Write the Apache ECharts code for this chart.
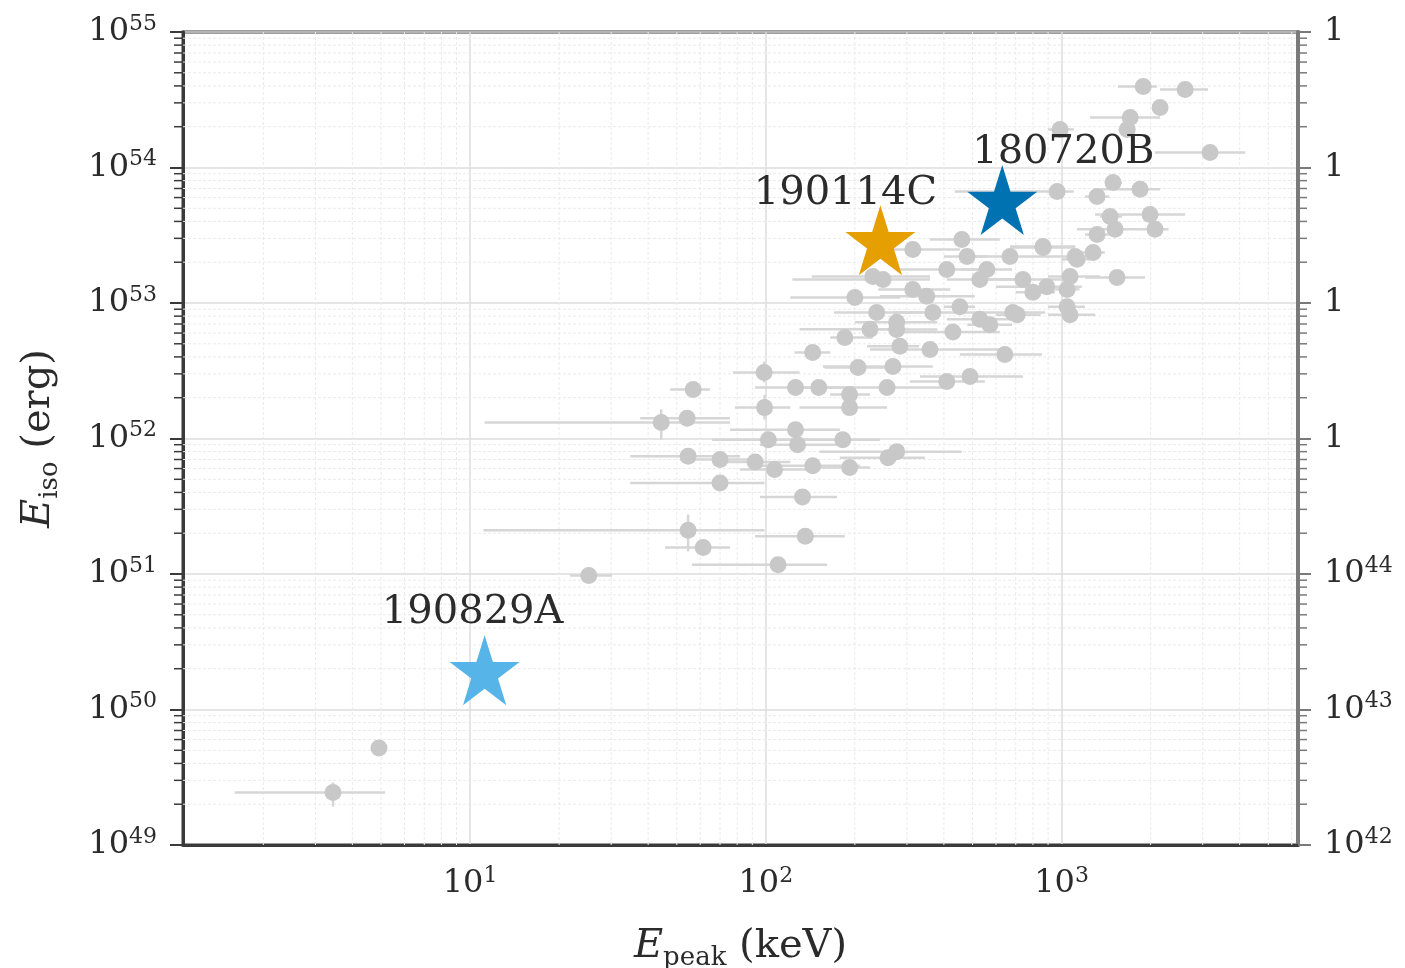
<!DOCTYPE html>
<html><head><meta charset="utf-8">
<script src="https://cdn.jsdelivr.net/npm/echarts@6.0.0/dist/echarts.min.js"></script>
<style>html,body{margin:0;padding:0;background:#fff}#c{width:1405px;height:968px}</style>
</head><body><div id="c"></div>
<script>
// ---- Data (Epeak in keV, Eiso in erg) ----
const epeak = [3.44, 4.92, 25.2, 56.8, 44.3, 54.2, 98.7, 126, 151, 144, 205, 192, 192, 99, 126, 128, 182, 102, 54.6, 70, 70, 92, 107, 144, 192, 259, 277, 133, 54.6, 61.4, 136, 110, 185, 277, 269, 257, 643, 490, 409, 359, 314, 460, 479, 669, 865, 1111, 230, 249, 200, 350, 409, 529, 559, 740, 891, 1068, 237, 277, 367, 453, 529, 684, 1044, 284, 429, 225, 1888, 2617, 2153, 1706, 1667, 988, 3176, 1493, 1842, 1318, 966, 1459, 1991, 2070, 1517, 1318, 866, 1278, 1128, 1540, 1044, 1068, 708, 800, 572, 314];
const epeakLo = [1.60, 4.92, 21.8, 47.5, 11.2, 37.6, 77.5, 92, 130, 125, 158, 165, 130, 78.7, 75.7, 95.5, 121, 65.8, 34.8, 51.3, 34.8, 70, 81.8, 95.5, 141, 178, 152, 95.5, 11.1, 45.6, 92, 56.3, 165, 225, 156, 130, 453, 332, 307, 225, 225, 359, 400, 453, 669, 914, 143, 123, 121, 243, 284, 409, 460, 559, 600, 900, 170, 200, 270, 400, 409, 540, 900, 220, 284, 130, 1550, 2153, 2153, 1248, 1600, 900, 2070, 1400, 1349, 1200, 435, 1350, 1298, 1800, 1128, 1200, 669, 1150, 1000, 1201, 950, 900, 600, 700, 480, 240];
const epeakHi = [5.16, 4.92, 30.2, 64.8, 75.7, 75.7, 130, 178, 185, 165, 284, 225, 257, 121, 178, 178, 243, 146, 81.8, 95.5, 99, 121, 152, 208, 225, 345, 460, 174, 99, 75.7, 185, 161, 230, 380, 367, 419, 858, 740, 550, 618, 453, 618, 560, 914, 1111, 1349, 359, 359, 284, 509, 540, 700, 680, 1000, 1170, 1350, 340, 380, 520, 510, 700, 880, 1200, 330, 618, 284, 2100, 3126, 2153, 2153, 1750, 1100, 4178, 1600, 2153, 1450, 1100, 1600, 2617, 2300, 1800, 1450, 1111, 1400, 1250, 1915, 1150, 1300, 850, 950, 680, 420];
const eiso = [2.44e49, 5.2e49, 9.75e50, 2.30e52, 1.31e52, 1.41e52, 3.07e52, 2.38e52, 2.38e52, 4.31e52, 3.34e52, 2.11e52, 1.69e52, 1.69e52, 1.16e52, 9.0e51, 9.8e51, 9.8e51, 7.4e51, 7.0e51, 4.7e51, 6.7e51, 5.9e51, 6.3e51, 6.1e51, 7.2e51, 8.0e51, 3.7e51, 2.1e51, 1.57e51, 1.9e51, 1.17e51, 5.56e52, 6.37e52, 3.40e52, 2.38e52, 4.17e52, 2.87e52, 2.63e52, 4.54e52, 2.48e53, 2.94e53, 2.20e53, 2.20e53, 2.61e53, 2.20e53, 1.57e53, 1.49e53, 1.10e53, 1.12e53, 1.77e53, 1.49e53, 1.77e53, 1.49e53, 1.32e53, 1.57e53, 8.5e52, 7.2e52, 8.5e52, 9.4e52, 7.6e52, 8.5e52, 9.4e52, 4.8e52, 6.1e52, 6.4e52, 3.96e54, 3.76e54, 2.77e54, 2.34e54, 1.91e54, 1.91e54, 1.29e54, 7.75e53, 6.9e53, 6.1e53, 6.65e53, 4.35e53, 4.5e53, 3.5e53, 3.5e53, 3.2e53, 2.57e53, 2.36e53, 2.1e53, 1.54e53, 1.26e53, 8.2e52, 8.2e52, 1.20e53, 6.9e52, 1.26e53];
// points with a visible vertical error bar
const yErrPoint = [0, 4, 6, 13, 28];
const yErrLo = [1.92e49, 0.98e52, 2.59e52, 1.38e52, 1.47e51];
const yErrHi = [2.89e49, 1.64e52, 3.70e52, 2.10e52, 2.75e51];

const starNames = ['190829A', '190114C', '180720B'];
const starEpeak = [11.2, 244, 630];
const starEiso = [1.95e50, 2.9e53, 5.75e53];

const xMin = 1.07, xMax = 6300;
const yMin = 1e49, yMax = 1e55;
const y2Min = 1e42, y2Max = 1e48;
const rightTickLabels = ['10^42', '10^43', '10^44', '1', '1', '1', '1'];

// ---- styles ----
const FONT = 'DejaVu Serif';
const TXT = '#2b2b2b';
const starColors = ['#56B4E9', '#E69F00', '#0072B2'];
const starOffsets = [[-12, -58], [-35, -47], [61, -47]];
const STAR = 'path://M50 0 L61.23 34.55 L97.55 34.55 L68.17 55.9 L79.39 90.45 L50 69.1 L20.61 90.45 L31.83 55.9 L2.45 34.55 L38.77 34.55 Z';

const points = epeak.map((x, i) => {
  const k = yErrPoint.indexOf(i);
  return [x, eiso[i], epeakLo[i], epeakHi[i], k >= 0 ? yErrLo[k] : eiso[i], k >= 0 ? yErrHi[k] : eiso[i]];
});

const minorX = [];
for (let k = 0; k < 4; k++) for (let m = 2; m <= 9; m++) { const v = m * Math.pow(10, k); if (v > xMin && v < xMax) minorX.push(v); }
const minorY = [];
for (let k = 49; k < 55; k++) for (let m = 2; m <= 9; m++) minorY.push(m * Math.pow(10, k));

const supRich = {
  b: { fontFamily: FONT, fontSize: 32, color: TXT, lineHeight: 38 },
  s: { fontFamily: FONT, fontSize: 22, color: TXT, lineHeight: 22, padding: [0, 0, 16, 0] }
};
function powLabel(v) {
  const e = Math.round(Math.log10(v));
  if (Math.abs(v / Math.pow(10, e) - 1) > 1e-6) return '';
  return '{b|10}{s|' + e + '}';
}
function rightLabel(v) {
  const e = Math.round(Math.log10(v));
  if (Math.abs(v / Math.pow(10, e) - 1) > 1e-6) return '';
  const t = rightTickLabels[e - 42];
  if (t === undefined) return '';
  const parts = t.split('^');
  return parts.length > 1 ? '{b|' + parts[0] + '}{s|' + parts[1] + '}' : '{b|' + parts[0] + '}';
}

function lineEl(x1, y1, x2, y2, stroke, w, dash) {
  return { type: 'line', shape: { x1, y1, x2, y2 }, style: { stroke, lineWidth: w, lineDash: dash || null } };
}

const titleRich = {
  i: { fontFamily: FONT, fontStyle: 'italic', fontSize: 40, color: TXT, lineHeight: 48 },
  sub: { fontFamily: FONT, fontSize: 26, color: TXT, lineHeight: 26, padding: [22, 0, 0, 0] },
  n: { fontFamily: FONT, fontSize: 40, color: TXT, lineHeight: 48 }
};

const chart = echarts.init(document.getElementById('c'));
chart.setOption({
  animation: false,
  backgroundColor: '#ffffff',
  textStyle: { fontFamily: FONT },
  grid: { left: 183, right: 107, top: 32, bottom: 123, outerBoundsMode: 'none', containLabel: false,
    show: true, borderColor: '#3a3a3a', borderWidth: 3, backgroundColor: '#ffffff' },
  xAxis: {
    type: 'log', logBase: 10, min: xMin, max: xMax,
    name: '{i|E}{sub|peak}{n| (keV)}', nameLocation: 'middle', nameGap: 78,
    nameTextStyle: { rich: titleRich },
    axisLine: { show: true, lineStyle: { color: '#3a3a3a', width: 3 } },
    axisTick: { show: false },
    axisLabel: { formatter: powLabel, rich: supRich, margin: 20, showMinLabel: false, showMaxLabel: false },
    splitLine: { show: true, lineStyle: { color: '#dcdcdc', width: 1.5 } }
  },
  yAxis: [{
    type: 'log', logBase: 10, min: yMin, max: yMax, position: 'left',
    name: '{i|E}{sub|iso}{n| (erg)}', nameLocation: 'middle', nameGap: 120,
    nameTextStyle: { rich: titleRich },
    axisLine: { show: true, lineStyle: { color: '#3a3a3a', width: 3 } },
    axisTick: { show: true, length: 13, lineStyle: { color: '#3a3a3a', width: 2 } },
    axisLabel: { formatter: powLabel, rich: supRich, margin: 26 },
    splitLine: { show: true, lineStyle: { color: '#dcdcdc', width: 1.5 } }
  }, {
    type: 'log', logBase: 10, min: y2Min, max: y2Max, position: 'right',
    axisLine: { show: true, lineStyle: { color: '#7a7a7a', width: 4 } },
    axisTick: { show: true, length: 13, lineStyle: { color: '#7a7a7a', width: 2 } },
    axisLabel: { formatter: rightLabel, rich: supRich, margin: 26, align: 'left' },
    splitLine: { show: false }
  }],
  series: [
    { // minor vertical gridlines
      type: 'custom', z: 1, silent: true, clip: true,
      data: minorX.map(v => [v, 1e52]),
      renderItem: (p, api) => {
        const a = api.coord([api.value(0), yMin]), b = api.coord([api.value(0), yMax]);
        return lineEl(a[0], a[1], b[0], b[1], '#eaeaea', 1, [3, 2]);
      }
    },
    { // minor horizontal gridlines
      type: 'custom', z: 1, silent: true, clip: true,
      data: minorY.map(v => [10, v]),
      renderItem: (p, api) => {
        const a = api.coord([xMin, api.value(1)]), b = api.coord([xMax, api.value(1)]);
        return lineEl(a[0], a[1], b[0], b[1], '#eaeaea', 1, [3, 2]);
      }
    },
    { // minor ticks, left & right
      type: 'custom', z: 5, silent: true, clip: false,
      data: minorY.map(v => [10, v]),
      renderItem: (p, api) => {
        const a = api.coord([xMin, api.value(1)]), b = api.coord([xMax, api.value(1)]);
        return { type: 'group', children: [
          lineEl(a[0] - 9, a[1], a[0], a[1], '#3a3a3a', 1.5),
          lineEl(b[0], b[1], b[0] + 9, b[1], '#7a7a7a', 1.5)
        ] };
      }
    },
    { // error bars
      type: 'custom', z: 2, silent: true, clip: true,
      data: points,
      renderItem: (p, api) => {
        const y = api.value(1), x = api.value(0);
        const a = api.coord([api.value(2), y]), b = api.coord([api.value(3), y]);
        const c = api.coord([x, api.value(4)]), d = api.coord([x, api.value(5)]);
        return { type: 'group', children: [
          lineEl(a[0], a[1], b[0], b[1], '#d6d6d6', 2.5),
          lineEl(c[0], c[1], d[0], d[1], '#d6d6d6', 2.5)
        ] };
      }
    },
    { // gray points
      type: 'scatter', z: 3, silent: true,
      data: points.map(p => [p[0], p[1]]),
      symbol: 'circle', symbolSize: 17,
      itemStyle: { color: '#c8c8c8', opacity: 1 }
    },
    ...starNames.map((n, i) => ({
      type: 'scatter', z: 10, silent: true,
      data: [{ name: n, value: [starEpeak[i], starEiso[i]] }],
      symbol: STAR, symbolSize: 70,
      itemStyle: { color: starColors[i], opacity: 1 },
      label: { show: true, formatter: '{b}', position: 'inside', offset: starOffsets[i],
        fontFamily: FONT, fontSize: 40, color: TXT, align: 'center', verticalAlign: 'middle' }
    }))
  ]
});
</script>
</body></html>
